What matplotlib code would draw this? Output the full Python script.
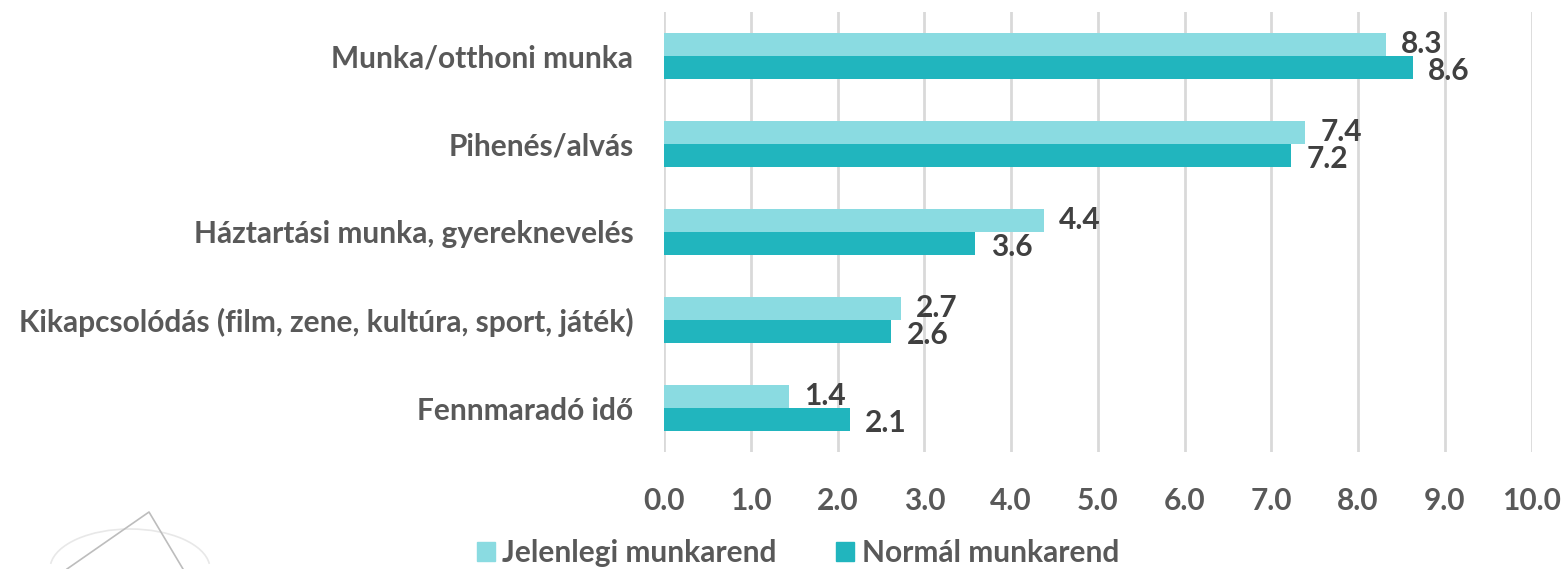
import numpy as np
import matplotlib
matplotlib.use("Agg")
import matplotlib.pyplot as plt
from matplotlib.lines import Line2D
from matplotlib.patches import Arc

plt.rcParams['font.family'] = ['Lato', 'DejaVu Sans']
plt.rcParams['font.weight'] = 'bold'

categories = ["Munka/otthoni munka", "Pihenés/alvás", "Háztartási munka, gyereknevelés",
              "Kikapcsolódás (film, zene, kultúra, sport, játék)", "Fennmaradó idő"]
jelenlegi = [8.32, 7.39, 4.38, 2.73, 1.44]
normal = [8.63, 7.23, 3.59, 2.62, 2.14]
series_names = ["Jelenlegi munkarend", "Normál munkarend"]
col_light = "#8ADBE1"
col_dark = "#21B5BE"
txt_gray = "#595959"
lbl_dark = "#404040"
fs = 21.5

fig = plt.figure(figsize=(15.62, 5.69), dpi=100)
ax = fig.add_axes([664/1562, 1 - 452/569, (1532-664)/1562, 440/569])

y = np.arange(len(categories))
h = 0.26
ax.barh(y - h/2, jelenlegi, height=h, color=col_light, zorder=3)
ax.barh(y + h/2, normal, height=h, color=col_dark, zorder=3)

for i in range(len(categories)):
    ax.annotate(f"{jelenlegi[i]:.1f}", (jelenlegi[i], y[i] - h/2), xytext=(11, 0.5),
                textcoords="offset points", va="center", ha="left",
                fontsize=fs, color=lbl_dark, fontweight="bold", zorder=4)
    ax.annotate(f"{normal[i]:.1f}", (normal[i], y[i] + h/2), xytext=(11, -2.5),
                textcoords="offset points", va="center", ha="left",
                fontsize=fs, color=lbl_dark, fontweight="bold", zorder=4)

ax.set_xlim(0, 10.005)
ax.set_ylim(len(categories) - 0.5, -0.5)
ax.set_xticks(np.arange(0, 10.1, 1.0))
ax.set_xticklabels([f"{v:.1f}" for v in np.arange(0, 10.1, 1.0)])
ax.set_yticks(y)
ax.set_yticklabels(categories)
ax.tick_params(axis='x', length=0, pad=25, labelsize=fs, labelcolor=txt_gray)
ax.tick_params(axis='y', length=0, pad=22, labelsize=fs, labelcolor=txt_gray)
ax.grid(axis='x', color="#D9D9D9", linewidth=2, zorder=0)
for s in ax.spines.values():
    s.set_visible(False)

handles = [plt.Rectangle((0, 0), 1, 1, color=col_light), plt.Rectangle((0, 0), 1, 1, color=col_dark)]
fig.legend(handles, series_names, loc="center", bbox_to_anchor=(798/1562, 1 - 553/569),
           ncol=2, frameon=False, fontsize=fs, handlelength=0.6, handleheight=0.6,
           handletextpad=0.25, columnspacing=2.0, labelcolor=txt_gray)

# faint logo in the lower left corner
fig.add_artist(Line2D([67/1562, 149/1562, 183/1562], [0, 1 - 512/569, 0],
                      color="#BDBDBD", linewidth=1.2))
fig.add_artist(Arc((130/1562, 0), 160/1562, 80/569, theta1=10, theta2=170,
                   color="#E8E8E8", linewidth=1.2, transform=fig.transFigure))

fig.savefig("out.png", dpi=100, facecolor="white")
